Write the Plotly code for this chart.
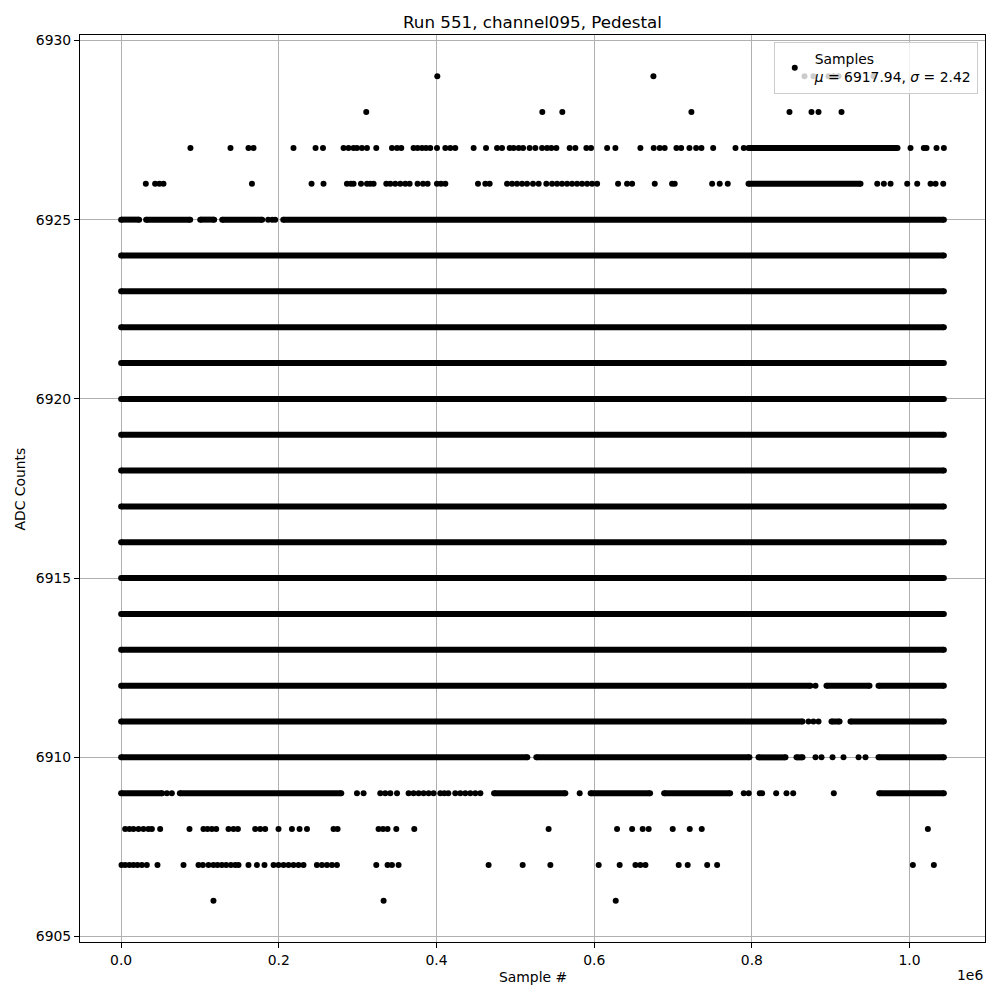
import plotly.graph_objects as go

# ---------------- data (x in thousands of samples) ----------------
title_text = "Run 551, channel095, Pedestal"
legend_label = "Samples<br><i>μ</i> = 6917.94, <i>σ</i> = 2.42"
x_tick_vals = [0.0, 0.2, 0.4, 0.6, 0.8, 1.0]          # units of 1e6
x_tick_text = ["0.0", "0.2", "0.4", "0.6", "0.8", "1.0"]
y_tick_vals = [6905, 6910, 6915, 6920, 6925, 6930]

last_sample_k = 1043.5

# ADC levels that are filled for the whole run
full_levels = [6913, 6914, 6915, 6916, 6917, 6918, 6919, 6920, 6921, 6922, 6923, 6924]

# dense stretches [start_k, end_k] per level
seg_6925_k = [[0, 22.8], [31.7, 87.6], [100.3, 118.0], [128.2, 178.9], [205.6, 1043.5]]
seg_6912_k = [[0, 874.3], [894.6, 949.2], [960.6, 1043.5]]
seg_6911_k = [[0, 864.2], [901.0, 911.2], [925.1, 1043.5]]
seg_6910_k = [[0, 515.2], [526.6, 796.9], [808.4, 842.6], [856.6, 864.2], [960.6, 1043.5]]
seg_6909_k = [[0, 52.0], [74.5, 279.2], [473.0, 563.4], [595.5, 670.9], [688.7, 772.4], [961.5, 1043.5]]
seg_6927_k = [[795.7, 984.7]]
seg_6926_k = [[795.7, 937.8]]

# isolated samples per level
pts_6929_k = [401.0, 675.1, 866.7, 878.1, 897.2, 903.5, 909.9, 954.3]
pts_6928_k = [310.9, 534.2, 559.6, 723.3, 847.7, 875.6, 884.5, 913.7]
pts_6927_k = [87.9, 138.7, 161.5, 167.9, 218.6, 246.6, 256.0, 282.1, 288.4, 294.8, 299.1,
              305.4, 311.8, 323.6, 343.5, 349.9, 355.3, 370.9, 376.0, 381.6, 386.7, 392.1,
              400.6, 411.2, 417.5, 423.8, 447.1, 462.8, 476.8, 483.1, 492.8, 497.8, 504.2,
              509.8, 518.1, 525.4, 533.9, 540.2, 545.7, 552.0, 568.9, 576.1, 590.1, 596.0,
              616.4, 626.9, 658.6, 675.5, 683.1, 689.4, 704.3, 710.3, 720.8, 729.3, 736.0,
              750.9, 779.2, 789.7, 1001.2, 1018.1, 1021.5, 1034.2, 1043.5]
pts_6926_k = [31.3, 43.1, 48.6, 53.7, 165.9, 241.5, 256.7, 286.4, 291.5, 294.8, 304.2,
              311.8, 316.0, 320.2, 336.3, 341.4, 347.7, 354.1, 360.4, 365.9, 376.0, 382.9,
              388.7, 400.6, 405.7, 411.2, 452.6, 461.9, 467.4, 489.5, 495.8, 502.1, 508.5,
              514.8, 522.4, 529.6, 539.3, 546.6, 552.9, 559.2, 565.6, 571.9, 578.3, 584.6,
              591.0, 597.3, 603.7, 630.3, 641.7, 648.1, 676.8, 698.8, 702.1, 749.6, 759.2,
              769.4, 959.0, 967.4, 975.9, 997.0, 1009.7, 1026.6, 1033.0, 1042.7]
pts_6925_k = [186.5, 191.6, 195.4]
pts_6912_k = [880.7]
pts_6911_k = [871.8, 878.1, 884.5]
pts_6910_k = [880.7, 888.3, 902.3, 916.2, 935.3, 944.1]
pts_6909_k = [58.0, 64.3, 299.1, 307.5, 328.7, 335.0, 341.4, 349.9, 364.6, 370.9, 377.3,
              383.6, 390.0, 396.3, 404.8, 409.9, 415.0, 423.8, 430.2, 436.5, 442.9, 449.2,
              455.6, 581.6, 789.7, 796.0, 810.0, 813.0, 830.8, 843.9, 852.4, 903.9]
pts_6908_k = [5.1, 10.5, 15.6, 22.0, 28.3, 34.6, 39.0, 49.5, 86.7, 104.4, 109.5, 115.1,
              120.6, 136.2, 142.5, 148.1, 170.0, 176.4, 182.7, 199.6, 216.6, 226.3, 235.7,
              269.4, 274.5, 326.5, 332.1, 337.9, 349.0, 371.8, 542.2, 629.0, 648.1, 661.5,
              669.1, 699.6, 721.2, 736.4, 1023.2]
pts_6907_k = [0.5, 5.1, 10.5, 15.6, 20.7, 26.3, 32.6, 46.1, 79.1, 98.1, 103.7, 110.8,
              117.1, 122.2, 127.8, 133.2, 139.2, 144.7, 148.9, 161.5, 172.2, 181.8, 193.3,
              199.6, 206.0, 212.3, 218.6, 225.0, 231.3, 248.3, 254.7, 261.0, 267.4, 273.7,
              323.6, 337.9, 343.5, 351.9, 466.1, 509.3, 544.4, 605.7, 632.3, 652.3, 658.6,
              665.0, 707.2, 718.6, 743.3, 755.9, 1004.2, 1030.8]
pts_6906_k = [117.1, 332.9, 627.3]

# ---------------- assemble ----------------
segments = {lv: [[0, last_sample_k]] for lv in full_levels}
segments.update({6925: seg_6925_k, 6912: seg_6912_k, 6911: seg_6911_k, 6910: seg_6910_k,
                 6909: seg_6909_k, 6927: seg_6927_k, 6926: seg_6926_k})
points = {6929: pts_6929_k, 6928: pts_6928_k, 6927: pts_6927_k, 6926: pts_6926_k,
          6925: pts_6925_k, 6912: pts_6912_k, 6911: pts_6911_k, 6910: pts_6910_k,
          6909: pts_6909_k, 6908: pts_6908_k, 6907: pts_6907_k, 6906: pts_6906_k}

seg_x, seg_y = [], []
for lv, segs in segments.items():
    for a, b in segs:
        seg_x += [a * 1e3, b * 1e3, None]
        seg_y += [lv, lv, None]

pt_x, pt_y = [], []
for lv, xs in points.items():
    for v in xs:
        pt_x.append(v * 1e3)
        pt_y.append(lv)

fig = go.Figure()
fig.add_trace(go.Scatter(x=seg_x, y=seg_y, mode="lines+markers",
                         line=dict(color="black", width=6),
                         marker=dict(color="black", size=6),
                         showlegend=False, hoverinfo="skip"))
fig.add_trace(go.Scatter(x=pt_x, y=pt_y, mode="markers", name=legend_label,
                         marker=dict(color="black", size=6), showlegend=True))

n_k = last_sample_k
xpad = 0.05 * n_k * 1e3
ymin, ymax = 6906, 6929
ypad = 0.05 * (ymax - ymin)

font = "DejaVu Sans, Liberation Sans, sans-serif"
fs = 13.9
fig.update_layout(
    width=992, height=992,
    margin=dict(l=72, r=15, t=27, b=58, pad=0),
    paper_bgcolor="white", plot_bgcolor="white",
    font=dict(family=font, size=fs, color="black"),
    title=dict(text=title_text, x=0.5, xref="paper", y=1 - 14 / 992, yref="container",
               xanchor="center", yanchor="middle", font=dict(size=16.7, color="black")),
    showlegend=True,
    legend=dict(x=0.992, y=0.992, xanchor="right", yanchor="top",
                bgcolor="rgba(255,255,255,0.8)", bordercolor="#cccccc", borderwidth=1,
                font=dict(size=fs, family=font), itemwidth=30, valign="middle"),
    xaxis=dict(range=[-xpad, n_k * 1e3 + xpad],
               tickvals=[v * 1e6 for v in x_tick_vals], ticktext=x_tick_text,
               showgrid=True, gridcolor="#b0b0b0", gridwidth=1, zeroline=False,
               showline=True, linecolor="black", linewidth=1, mirror=True,
               ticks="outside", ticklen=5, tickcolor="black", tickfont=dict(size=fs)),
    yaxis=dict(range=[ymin - ypad, ymax + ypad], tickvals=y_tick_vals,
               showgrid=True, gridcolor="#b0b0b0", gridwidth=1, zeroline=False,
               showline=True, linecolor="black", linewidth=1, mirror=True,
               ticks="outside", ticklen=5, tickcolor="black", tickfont=dict(size=fs)),
    annotations=[
        dict(text="Sample #", xref="paper", yref="paper", x=0.5, y=-0.0386,
             xanchor="center", yanchor="middle", showarrow=False, font=dict(size=fs)),
        dict(text="ADC Counts", xref="paper", yref="paper", x=-0.0663, y=0.5,
             xanchor="center", yanchor="middle", textangle=-90, showarrow=False,
             font=dict(size=fs)),
        dict(text="1e6", xref="paper", yref="paper", x=1.0, y=-0.0364,
             xanchor="right", yanchor="middle", showarrow=False, font=dict(size=fs)),
    ],
)

fig.write_html("out.html")
